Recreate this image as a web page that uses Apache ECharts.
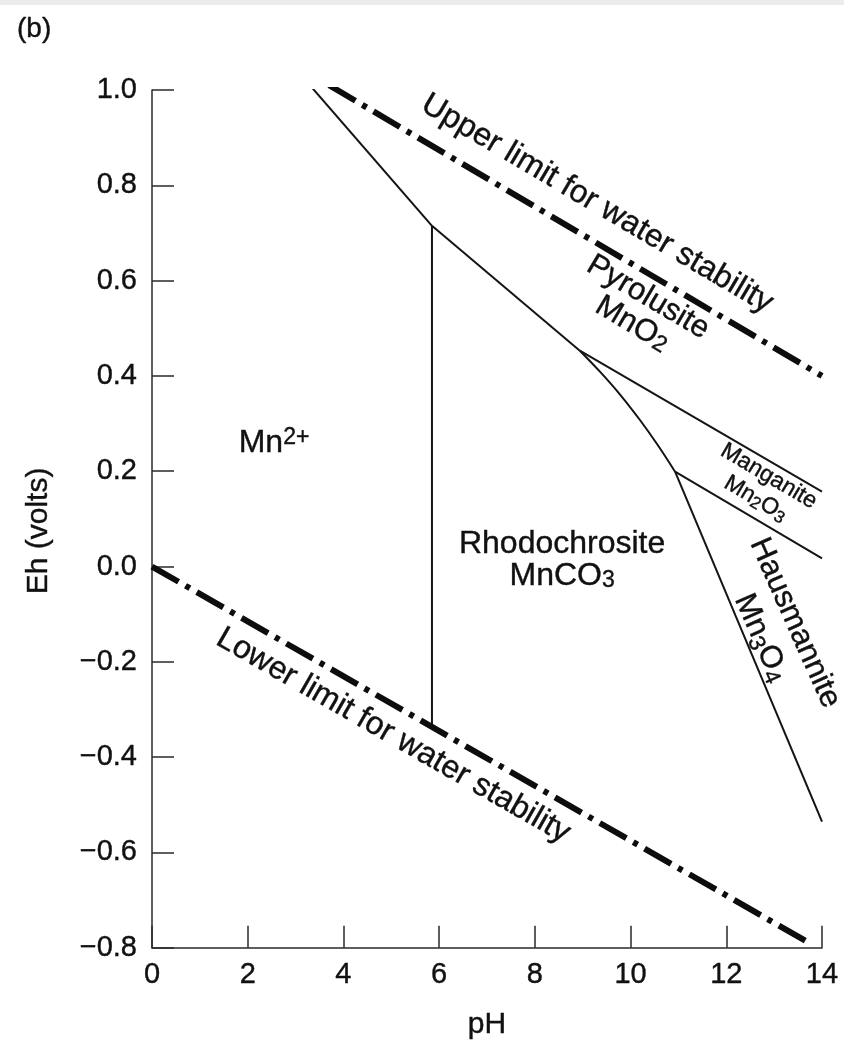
<!DOCTYPE html>
<html><head><meta charset="utf-8">
<script src="https://cdn.jsdelivr.net/npm/echarts@6/dist/echarts.min.js"></script>
<style>html,body{margin:0;padding:0;background:#fff}#c{width:844px;height:1045px}</style>
</head><body><div id="c"></div>
<script>
// ---- Data (pH, Eh in volts) ----
const upperLimitPH = [3.7, 14.0];
const upperLimitEh = [1.01, 0.40];
const lowerLimitPH = [0, 13.65];
const lowerLimitEh = [0, -0.785];
const mn2MnO2PH = [3.36, 5.85];
const mn2MnO2Eh = [1.003, 0.715];
const mnco3MnO2PH = [5.85, 8.94];
const mnco3MnO2Eh = [0.715, 0.453];
const mno2Mn2o3PH = [8.94, 14.0];
const mno2Mn2o3Eh = [0.453, 0.157];
const mnco3Mn2o3PH = [8.94, 9.36, 9.78, 10.2, 10.56, 10.93];
const mnco3Mn2o3Eh = [0.453, 0.409, 0.361, 0.307, 0.256, 0.199];
const mn2o3Mn3o4PH = [10.93, 14.0];
const mn2o3Mn3o4Eh = [0.199, 0.017];
const mnco3Mn3o4PH = [10.93, 14.0];
const mnco3Mn3o4Eh = [0.199, -0.535];
const mn2Mnco3PH = [5.85, 5.85];
const mn2Mnco3Eh = [0.715, -0.335];

const xTicks = [0, 2, 4, 6, 8, 10, 12, 14];
const yTicks = [-0.8, -0.6, -0.4, -0.2, 0.0, 0.2, 0.4, 0.6, 0.8, 1.0];

// ---- Annotations (text anchored in data coordinates) ----
const labelTexts = {
  mn2: 'Mn{sup|2+}',
  rhodo: 'Rhodochrosite\nMnCO{sub|3}',
  pyro: 'Pyrolusite\nMnO{sub|2}',
  mangan: 'Manganite\nMn{sub|2}O{sub|3}',
  hausm: 'Hausmannite\nMn{sub|3}O{sub|4}',
  upper: 'Upper limit for water stability',
  lower: 'Lower limit for water stability'
};

const FONT = "'Liberation Sans', Arial, Helvetica, sans-serif";
const TXT = '#111111';

function pairs(xs, ys) { return xs.map((x, i) => [x, ys[i]]); }
const thin = { color: '#141414', width: 2 };
const dashDot = { color: '#0d0d0d', width: 6, type: [30.6, 8, 5, 8], cap: 'butt' };
function lineSeries(name, xs, ys, style, extra) {
  return Object.assign({
    name, type: 'line', data: pairs(xs, ys), symbol: 'none', showSymbol: false,
    lineStyle: style, silent: true, animation: false, z: 3
  }, extra || {});
}
function subRich(fs, lh, va) {
  return { fontSize: fs, lineHeight: lh, verticalAlign: va, fontFamily: FONT, color: TXT,
           textBorderColor: TXT, textBorderWidth: 0.4 };
}
function ann(text, pos, rot, fs, lh, subFs, subLh) {
  return {
    value: pos,
    label: {
      show: true, position: 'inside', formatter: text, rotate: rot, opacity: 1,
      fontSize: fs, lineHeight: lh, fontFamily: FONT, color: TXT, align: 'center',
      textBorderColor: TXT, textBorderWidth: 0.4,
      rich: {
        sub: subRich(subFs || 23, subLh || 12, 'bottom'),
        sup: subRich(subFs || 23, subLh || 14, 'top')
      }
    }
  };
}

const annotations = [
  ann(labelTexts.mn2, [2.55, 0.258], 0, 32, 34),
  ann(labelTexts.rhodo, [8.57, 0.013], 0, 32, 32),
  ann(labelTexts.pyro, [10.2, 0.537], -30.5, 31, 31),
  ann(labelTexts.mangan, [12.75, 0.166], -30.5, 23, 26, 17, 9),
  ann(labelTexts.hausm, [13.08, -0.134], -66, 31, 37),
  ann(labelTexts.upper, [9.3, 0.761], -30.5, 32, 34),
  ann(labelTexts.lower, [5.04, -0.355], -29.8, 32, 34)
];

const chart = echarts.init(document.getElementById('c'), null, { renderer: 'canvas' });
chart.setOption({
  backgroundColor: '#ffffff',
  animation: false,
  title: {
    text: '(b)', left: 12, top: 10,
    textStyle: { fontSize: 28, fontWeight: 'normal', color: TXT, fontFamily: FONT, textBorderColor: TXT, textBorderWidth: 0.4 }
  },
  graphic: [{ type: 'rect', left: 0, top: 0, shape: { width: 844, height: 5 }, style: { fill: '#ececec' }, silent: true }],
  grid: { left: 152, right: 22, top: 90, bottom: 97, containLabel: false },
  xAxis: {
    type: 'value', min: xTicks[0], max: xTicks[xTicks.length - 1], interval: 2,
    name: 'pH', nameLocation: 'middle', nameGap: 62,
    nameTextStyle: { fontSize: 30, color: TXT, fontFamily: FONT, textBorderColor: TXT, textBorderWidth: 0.4 },
    axisLine: { show: true, onZero: false, lineStyle: { color: '#2a2a2a', width: 1.5 } },
    axisTick: { show: true, inside: true, length: 22, lineStyle: { color: '#2a2a2a', width: 1.5 } },
    axisLabel: { fontSize: 29, margin: 13, color: TXT, fontFamily: FONT, showMinLabel: true, showMaxLabel: true,
                 textBorderColor: TXT, textBorderWidth: 0.4 },
    splitLine: { show: false }
  },
  yAxis: {
    type: 'value', min: yTicks[0], max: yTicks[yTicks.length - 1], interval: 0.2,
    name: 'Eh (volts)', nameLocation: 'middle', nameGap: 98, nameRotate: 90,
    nameTextStyle: { fontSize: 30, color: TXT, fontFamily: FONT, padding: [0, 24, 0, 0], textBorderColor: TXT, textBorderWidth: 0.4 },
    axisLine: { show: true, onZero: false, lineStyle: { color: '#2a2a2a', width: 1.5 } },
    axisTick: { show: true, inside: true, length: 22, lineStyle: { color: '#2a2a2a', width: 1.5 } },
    axisLabel: {
      fontSize: 29, margin: 15, color: TXT, fontFamily: FONT, showMinLabel: true, showMaxLabel: true,
      textBorderColor: TXT, textBorderWidth: 0.4,
      formatter: v => { const r = Math.round(v * 10) / 10; return (r < 0 ? '\u2212' : '') + Math.abs(r).toFixed(1); }
    },
    splitLine: { show: false }
  },
  series: [
    lineSeries('Upper limit', upperLimitPH, upperLimitEh, dashDot, { z: 4 }),
    lineSeries('Lower limit', lowerLimitPH, lowerLimitEh, dashDot, { z: 4 }),
    lineSeries('Mn2+/MnO2', mn2MnO2PH, mn2MnO2Eh, thin),
    lineSeries('MnCO3/MnO2', mnco3MnO2PH, mnco3MnO2Eh, thin),
    lineSeries('MnO2/Mn2O3', mno2Mn2o3PH, mno2Mn2o3Eh, thin),
    lineSeries('MnCO3/Mn2O3', mnco3Mn2o3PH, mnco3Mn2o3Eh, thin, { smooth: 0.4 }),
    lineSeries('Mn2O3/Mn3O4', mn2o3Mn3o4PH, mn2o3Mn3o4Eh, thin),
    lineSeries('MnCO3/Mn3O4', mnco3Mn3o4PH, mnco3Mn3o4Eh, thin),
    lineSeries('Mn2+/MnCO3', mn2Mnco3PH, mn2Mnco3Eh, thin),
    {
      name: 'labels', type: 'scatter', data: annotations, symbolSize: 1,
      itemStyle: { color: 'rgba(0,0,0,0)', opacity: 1 }, silent: true, animation: false, z: 5,
      labelLayout: { hideOverlap: false }
    }
  ]
});
</script></body></html>
